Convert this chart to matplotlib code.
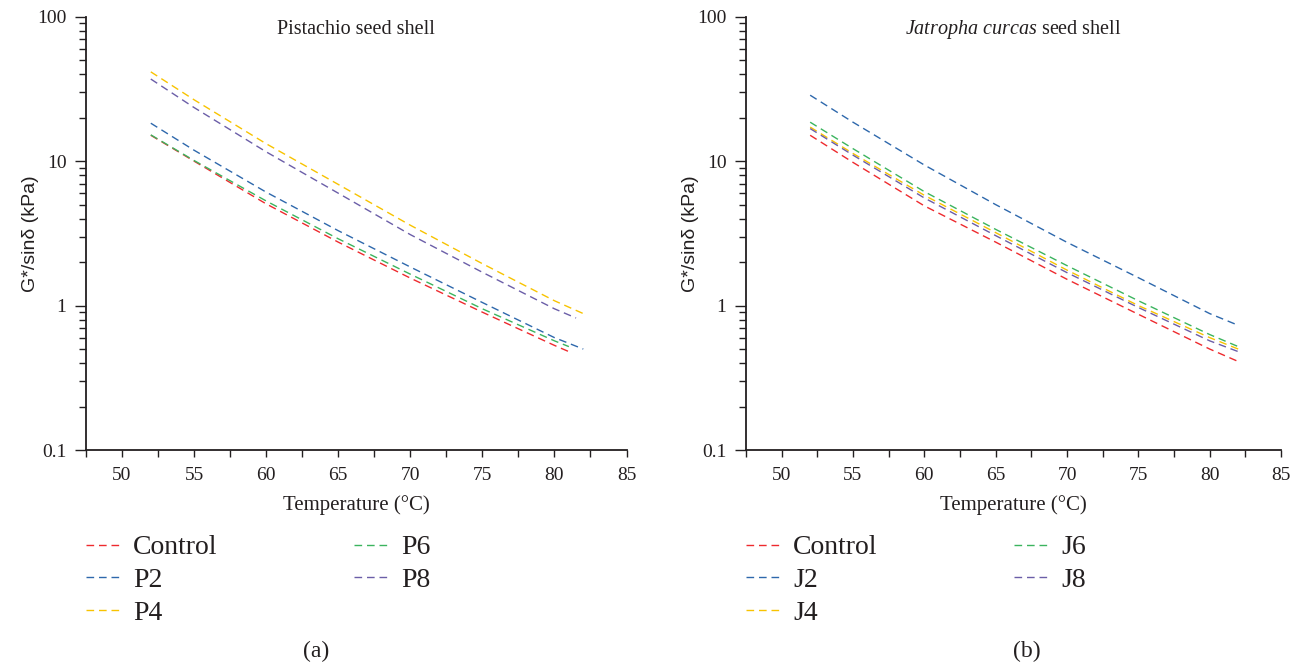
"""G*/sin(delta) vs temperature for modified binders (two panels)."""
import matplotlib
matplotlib.use("Agg")
import matplotlib.pyplot as plt
from matplotlib.ticker import FixedLocator, FuncFormatter, LogLocator, NullFormatter

# Temperatures (deg C)
T_FULL = [52, 55, 60, 65, 70, 75, 80, 82]
T_81 = [52, 55, 60, 65, 70, 75, 80, 81]
T_815 = [52, 55, 60, 65, 70, 75, 80, 81.5]

# Pistachio seed shell (kPa)
P_CONTROL = [15.1, 10.0, 5.06, 2.75, 1.55, 0.90, 0.53, 0.48]
P2 = [18.3, 11.9, 6.1, 3.3, 1.85, 1.05, 0.60, 0.50]
P4 = [41.5, 26.6, 13.2, 6.9, 3.6, 1.95, 1.08, 0.88]
P6 = [15.2, 10.1, 5.3, 2.9, 1.65, 0.95, 0.57, 0.52]
P8 = [37.0, 23.5, 11.6, 6.0, 3.1, 1.70, 0.95, 0.82]

# Jatropha curcas seed shell (kPa)
J_CONTROL = [15.1, 9.8, 4.9, 2.75, 1.52, 0.87, 0.50, 0.41]
J2 = [28.6, 18.6, 9.4, 5.0, 2.74, 1.56, 0.88, 0.73]
J4 = [17.2, 11.3, 5.8, 3.2, 1.76, 1.00, 0.60, 0.50]
J6 = [18.6, 12.2, 6.15, 3.37, 1.89, 1.08, 0.63, 0.52]
J8 = [16.8, 11.0, 5.56, 3.05, 1.69, 0.97, 0.57, 0.48]

COLORS = ["#EE2A2E", "#2E68AC", "#F8C300", "#3BB45E", "#6B5EA8"]

SERIF = ["Liberation Serif", "DejaVu Serif"]
SANS = ["Liberation Sans", "DejaVu Sans"]

plt.rcParams["font.family"] = SERIF
plt.rcParams["mathtext.fontset"] = "custom"
plt.rcParams["mathtext.rm"] = "Liberation Serif"
plt.rcParams["mathtext.it"] = "Liberation Serif:italic"
INK = "#231F20"

fig = plt.figure(figsize=(13.08, 6.67), dpi=100)
ax_a = fig.add_axes([0.0657, 0.3253, 0.4133, 0.6497])
ax_b = fig.add_axes([0.5703, 0.3253, 0.4091, 0.6497])

panels = [
    (ax_a, ["Control", "P2", "P4", "P6", "P8"],
     [(T_81, P_CONTROL), (T_FULL, P2), (T_FULL, P4), (T_81, P6), (T_815, P8)],
     0.2416, "(a)"),
    (ax_b, ["Control", "J2", "J4", "J6", "J8"],
     [(T_FULL, J_CONTROL), (T_FULL, J2), (T_FULL, J4), (T_FULL, J6), (T_FULL, J8)],
     0.7852, "(b)"),
]

for ax, labels, series, cap_x, cap in panels:
    handles = []
    for (t, v), lab, col in zip(series, labels, COLORS):
        h, = ax.plot(t, v, color=col, lw=1.0, ls=(0, (5.5, 3.5)), label=lab)
        handles.append(h)

    ax.set_yscale("log")
    ax.set_ylim(0.1, 100)
    ax.set_xlim(47.5, 85)
    ax.xaxis.set_major_locator(FixedLocator([50, 55, 60, 65, 70, 75, 80, 85]))
    ax.xaxis.set_minor_locator(FixedLocator([47.5, 52.5, 57.5, 62.5, 67.5, 72.5, 77.5, 82.5]))
    ax.yaxis.set_major_locator(FixedLocator([0.1, 1, 10, 100]))
    ax.yaxis.set_major_formatter(FuncFormatter(lambda v, p: f"{v:g}"))
    ax.yaxis.set_minor_locator(LogLocator(base=10, subs=range(2, 10)))
    ax.yaxis.set_minor_formatter(NullFormatter())
    ax.tick_params(axis="both", which="major", direction="out", width=1,
                   labelsize=14, colors=INK)
    ax.tick_params(axis="x", which="both", length=5, width=1, pad=7, color=INK)
    ax.tick_params(axis="y", which="major", length=8, pad=6)
    ax.tick_params(axis="y", which="minor", direction="out", length=5, width=1, color=INK)
    for s in ["top", "right"]:
        ax.spines[s].set_visible(False)
    for s in ["left", "bottom"]:
        ax.spines[s].set_linewidth(1.3)
        ax.spines[s].set_color(INK)

    ax.set_xlabel("Temperature (°C)", fontsize=15, labelpad=8, color=INK)
    ax.set_ylabel("G*/sinδ (kPa)", fontsize=14, family=SANS, labelpad=-1.5, color=INK)

    pos = ax.get_position()
    fig.legend(handles=handles, loc="upper left", bbox_to_anchor=(pos.x0, 0.198),
               ncol=2, frameon=False, fontsize=20, handlelength=1.25,
               handletextpad=0.45, columnspacing=4.9, labelspacing=0.26,
               borderaxespad=0, borderpad=0, labelcolor=INK)
    fig.text(cap_x, 0.024, cap, ha="center", va="center", fontsize=17, color=INK)

ax_a.text(0.5, 0.97, "Pistachio seed shell", transform=ax_a.transAxes,
          ha="center", va="center", fontsize=14.5, color=INK)
ax_b.text(0.5, 0.97, r"$Jatropha\ curcas$ seed shell", transform=ax_b.transAxes,
          ha="center", va="center", fontsize=14.5, color=INK)

fig.savefig("out.png", dpi=100)
